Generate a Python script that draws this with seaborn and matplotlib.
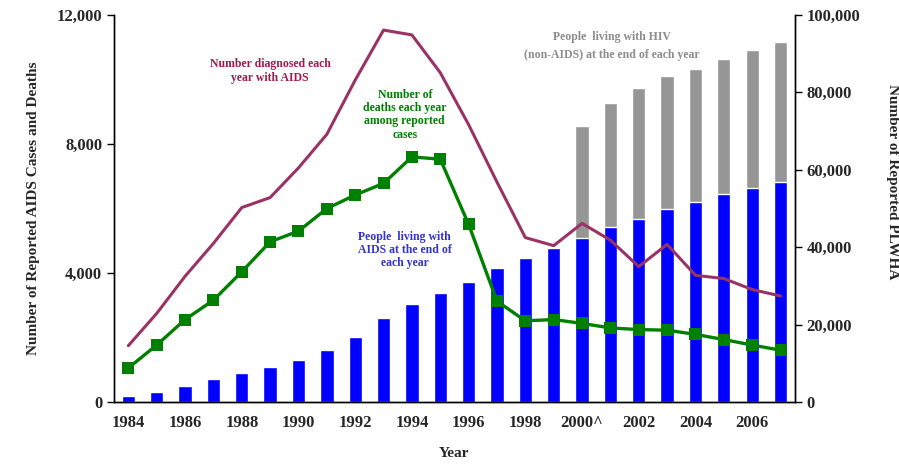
import matplotlib
matplotlib.use("Agg")
import matplotlib.pyplot as plt
import matplotlib.ticker as mticker
import numpy as np
import pandas as pd
import seaborn as sns

# data
years = list(range(1984, 2008))
diagnosed = [1750, 2750, 3900, 4920, 6030, 6340, 7260, 8300, 9980, 11530, 11380, 10210,
             8600, 6820, 5100, 4850, 5540, 5020, 4200, 4890, 3930, 3830, 3490, 3290]
deaths = [1060, 1770, 2560, 3160, 4040, 4970, 5300, 6000, 6420, 6780, 7600, 7530,
          5510, 3130, 2520, 2560, 2440, 2300, 2250, 2230, 2100, 1940, 1770, 1610]
living_aids = [1550, 2660, 4130, 5870, 7570, 9120, 10850, 13440, 16870, 21630, 25320, 28090,
               30930, 34550, 37130, 39710, 42290, 45140, 47200, 49870, 51680, 53670, 55390, 56930]
hiv_years = list(range(2000, 2008))
living_hiv_non_aids = [29030, 32040, 34020, 34290, 34450, 34870, 35480, 36090]
tick_years = list(range(1984, 2007, 2))
tick_labels = [str(y) + ("^" if y == 2000 else "") for y in tick_years]

MAROON = "#993366"
GREEN = "#008000"
BLUE = "#0000ff"
GRAY = "#969696"

df = pd.DataFrame({"year": years, "diagnosed": diagnosed, "deaths": deaths, "aids": living_aids})
hiv = pd.DataFrame({"year": hiv_years, "non_aids": living_hiv_non_aids})
hiv["total"] = hiv["non_aids"].values + df.set_index("year").loc[hiv_years, "aids"].values

sns.set_style("white")
plt.rcParams["font.family"] = ["Liberation Serif", "DejaVu Serif"]
plt.rcParams["font.weight"] = "bold"

fig = plt.figure(figsize=(8.99, 4.66), dpi=100)
ax_bar = fig.add_axes([0.127, 0.137, 0.757, 0.831])
ax_line = ax_bar.twinx()

# bars on the right-hand (people living) scale
sns.barplot(data=hiv, x="year", y="total", native_scale=True, color=GRAY, saturation=1,
            width=0.47, errorbar=None, ax=ax_bar)
sns.barplot(data=df, x="year", y="aids", native_scale=True, color=BLUE, saturation=1,
            width=0.47, errorbar=None, ax=ax_bar)

# lines on the left-hand (cases and deaths) scale
sns.lineplot(data=df, x="year", y="diagnosed", color=MAROON, lw=2.2, ax=ax_line)
sns.lineplot(data=df, x="year", y="deaths", color=GREEN, lw=2.4, marker="s",
             markersize=9, markeredgewidth=0, ax=ax_line)

ax_bar.yaxis.tick_right()
ax_bar.yaxis.set_label_position("right")
ax_line.yaxis.tick_left()
ax_line.yaxis.set_label_position("left")

ax_bar.set_ylim(0, 100000)
ax_bar.set_yticks(range(0, 100001, 20000))
ax_line.set_ylim(0, 12000)
ax_line.set_yticks(range(0, 12001, 4000))
fmt = mticker.StrMethodFormatter("{x:,.0f}")
ax_bar.yaxis.set_major_formatter(fmt)
ax_line.yaxis.set_major_formatter(fmt)

ax_bar.set_xlim(years[0] - 0.5, years[-1] + 0.5)
ax_bar.set_xticks(tick_years)
ax_bar.set_xticklabels(tick_labels)
ax_bar.set_xticks(np.arange(years[0] - 0.5, years[-1] + 1), minor=True)
ax_bar.tick_params(axis="x", which="major", length=0, pad=9, labelsize=12)
ax_bar.tick_params(axis="x", which="minor", length=5, width=1, direction="out", color="black")
ax_bar.tick_params(axis="y", length=5, width=1, direction="out", labelsize=12, color="black")
ax_line.tick_params(axis="y", length=5, width=1, direction="out", labelsize=12, color="black")

for a in (ax_bar, ax_line):
    a.spines["top"].set_visible(False)
    for s in ("left", "right", "bottom"):
        a.spines[s].set_color("black")
        a.spines[s].set_linewidth(1)

ax_bar.set_xlabel("Year", fontsize=11, fontweight="bold", labelpad=12)
ax_bar.set_ylabel("")
ax_line.set_ylabel("Number of Reported AIDS Cases and Deaths", fontsize=11,
                   fontweight="bold", labelpad=12)
fig.text(0.993, 0.61, "Number of Reported PLWHA", rotation=-90, ha="center", va="center",
         fontsize=11, fontweight="bold")

# annotations
ax_line.text(0.229, 0.855, "Number diagnosed each\nyear with AIDS", transform=ax_line.transAxes,
             ha="center", va="center", color="#a0184c", fontsize=8.5, fontweight="bold",
             linespacing=1.15)
ax_line.text(0.427, 0.742, "Number of\ndeaths each year\namong reported\ncases",
             transform=ax_line.transAxes, ha="center", va="center", color=GREEN,
             fontsize=8.5, fontweight="bold", linespacing=1.15)
ax_line.text(0.427, 0.393, "People  living with\nAIDS at the end of\neach year",
             transform=ax_line.transAxes, ha="center", va="center", color="#3333cc",
             fontsize=8.5, fontweight="bold", linespacing=1.15)
ax_line.text(0.731, 0.92, "People  living with HIV\n(non-AIDS) at the end of each year",
             transform=ax_line.transAxes, ha="center", va="center", color="#8c8c8c",
             fontsize=8.5, fontweight="bold", linespacing=1.7)

fig.savefig("out.png", dpi=100)
